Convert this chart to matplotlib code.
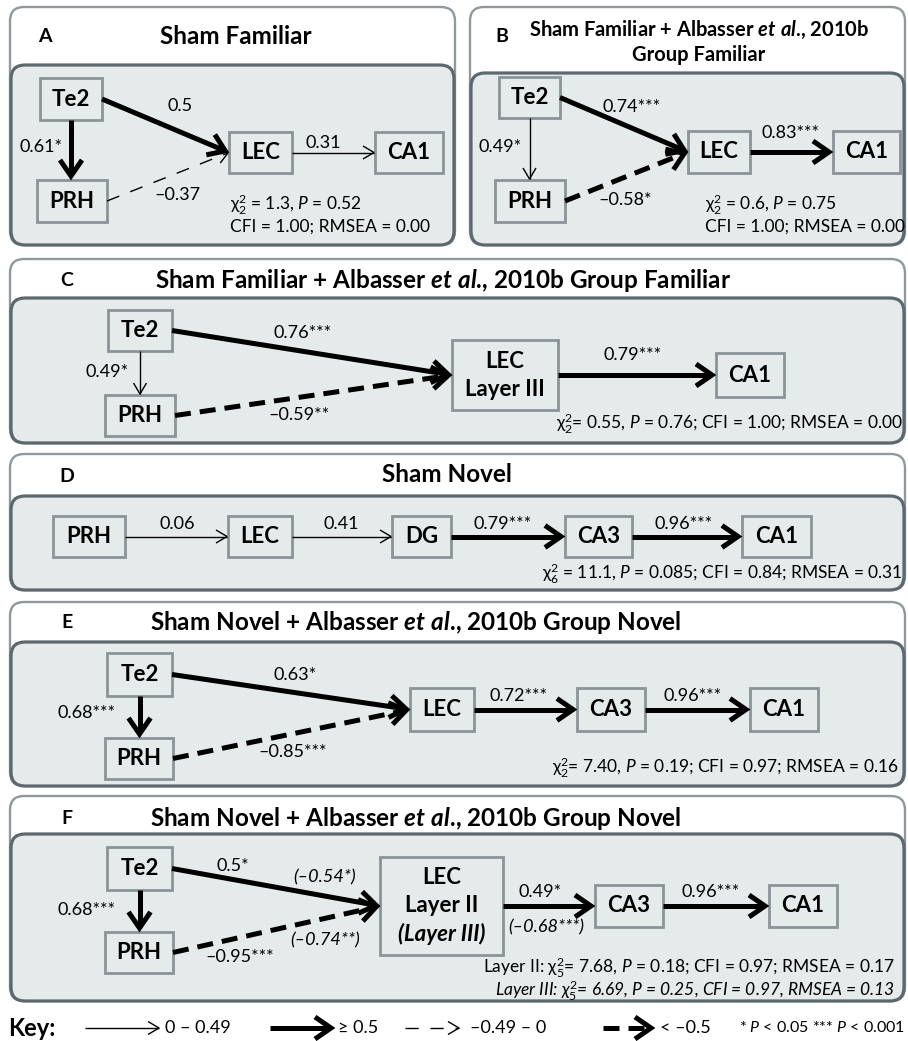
import numpy as np
import matplotlib
matplotlib.use("Agg")
import matplotlib.pyplot as plt
from matplotlib.patches import FancyBboxPatch, Rectangle

plt.rcParams['font.family'] = ['Lato', 'DejaVu Sans']
plt.rcParams['mathtext.fontset'] = 'custom'
plt.rcParams['mathtext.rm'] = 'Lato'
plt.rcParams['mathtext.it'] = 'Lato:italic'
plt.rcParams['mathtext.bf'] = 'Lato:bold'
plt.rcParams['mathtext.sf'] = 'Lato:italic:bold'
plt.rcParams['mathtext.fallback'] = 'stixsans'
plt.rcParams['lines.scale_dashes'] = False

# ---------------- data ----------------
A_src = ["Te2", "Te2", "PRH", "LEC"]
A_dst = ["LEC", "PRH", "LEC", "CA1"]
A_beta = [0.5, 0.61, -0.37, 0.31]
A_sig = ["", "*", "", ""]
A_fit = ["2", "1.3", "0.52", "1.00", "0.00"]

B_src = ["Te2", "Te2", "PRH", "LEC"]
B_dst = ["LEC", "PRH", "LEC", "CA1"]
B_beta = [0.74, 0.49, -0.58, 0.83]
B_sig = ["***", "*", "*", "***"]
B_fit = ["2", "0.6", "0.75", "1.00", "0.00"]

C_src = ["Te2", "Te2", "PRH", "LEC"]
C_dst = ["LEC", "PRH", "LEC", "CA1"]
C_beta = [0.76, 0.49, -0.59, 0.79]
C_sig = ["***", "*", "**", "***"]
C_fit = ["2", "0.55", "0.76", "1.00", "0.00"]

D_src = ["PRH", "LEC", "DG", "CA3"]
D_dst = ["LEC", "DG", "CA3", "CA1"]
D_beta = [0.06, 0.41, 0.79, 0.96]
D_sig = ["", "", "***", "***"]
D_fit = ["6", "11.1", "0.085", "0.84", "0.31"]

E_src = ["Te2", "Te2", "PRH", "LEC", "CA3"]
E_dst = ["LEC", "PRH", "LEC", "CA3", "CA1"]
E_beta = [0.63, 0.68, -0.85, 0.72, 0.96]
E_sig = ["*", "***", "***", "***", "***"]
E_fit = ["2", "7.40", "0.19", "0.97", "0.16"]

F_src = ["Te2", "Te2", "PRH", "LEC", "CA3"]
F_dst = ["LEC", "PRH", "LEC", "CA3", "CA1"]
F_beta = [0.5, 0.68, -0.95, 0.49, 0.96]
F_sig = ["*", "***", "***", "*", "***"]
F_beta_L3 = [-0.54, None, -0.74, -0.68, None]
F_sig_L3 = ["*", "", "**", "***", ""]
F_fit_L2 = ["5", "7.68", "0.18", "0.97", "0.17"]
F_fit_L3 = ["5", "6.69", "0.25", "0.97", "0.13"]

titles = {
    "A": "Sham Familiar",
    "B": ["Sham Familiar + Albasser $\\mathsf{et\\ al}$., 2010b", "Group Familiar"],
    "C": "Sham Familiar + Albasser $\\mathsf{et\\ al}$., 2010b Group Familiar",
    "D": "Sham Novel",
    "E": "Sham Novel + Albasser $\\mathsf{et\\ al}$., 2010b Group Novel",
    "F": "Sham Novel + Albasser $\\mathsf{et\\ al}$., 2010b Group Novel",
}

key_texts = ["0 – 0.49", "≥ 0.5", "–0.49 – 0", "< –0.5"]
key_thick = [False, True, False, True]
key_dashed = [False, False, True, True]

# ---------------- style ----------------
FILL = '#e5eaea'
BOXEDGE = '#8a9499'
OUTEREDGE = '#8e989d'
INNEREDGE = '#5c676e'
NODE_FS = 16
COEF_FS = 13
STAT_FS = 12.5
TITLE_FS = 17.5

fig = plt.figure(figsize=(9.08, 10.41), dpi=100)
ax = fig.add_axes([0, 0, 1, 1])
ax.set_xlim(0, 908)
ax.set_ylim(1041, 0)
ax.axis('off')


def fmt(b, s):
    t = f"{abs(b):g}"
    return ("–" if b < 0 else "") + t + s


def panel(x0, x1, y0, y1, yin):
    ax.add_patch(FancyBboxPatch((x0, y0), x1 - x0, y1 - y0,
                                boxstyle="round,pad=0,rounding_size=14",
                                fc='white', ec=OUTEREDGE, lw=1.7, zorder=1))
    ax.add_patch(FancyBboxPatch((x0 + 1, yin), x1 - x0 - 2, y1 - yin,
                                boxstyle="round,pad=0,rounding_size=14",
                                fc=FILL, ec=INNEREDGE, lw=2.3, zorder=2))


def node(b, lines, styles=None, size=NODE_FS):
    x0, x1, y0, y1 = b
    ax.add_patch(Rectangle((x0, y0), x1 - x0, y1 - y0, fc=FILL, ec=BOXEDGE,
                           lw=2.0, zorder=3))
    n = len(lines)
    cy = (y0 + y1) / 2
    step = 28
    for i, ln in enumerate(lines):
        st = styles[i] if styles else 'normal'
        ax.text((x0 + x1) / 2, cy + (i - (n - 1) / 2) * step, ln,
                ha='center', va='center', fontsize=size, fontweight='bold',
                style=st, zorder=4)


def arrow(p0, p1, thick, dashed):
    lw = 3.6 if thick else 1.0
    L = 16 if thick else 11
    W = 11 if thick else 6.5
    p0 = np.array(p0, float)
    p1 = np.array(p1, float)
    d = p1 - p0
    u = d / np.linalg.norm(d)
    perp = np.array([-u[1], u[0]])
    tip = p1 - u * (4.0 if thick else 1.0)
    shaft_end = tip - u * (3 if thick else 0.5)
    ls = '-'
    if dashed:
        ls = (0, (11.5, 6.5)) if thick else (0, (9.5, 8.5))
    ax.plot([p0[0], shaft_end[0]], [p0[1], shaft_end[1]], color='k', lw=lw,
            ls=ls, solid_capstyle='butt', dash_capstyle='butt', zorder=5)
    w1 = tip - u * L + perp * W
    w2 = tip - u * L - perp * W
    ax.plot([w1[0], tip[0], w2[0]], [w1[1], tip[1], w2[1]], color='k', lw=lw,
            solid_joinstyle='miter', solid_capstyle='butt', zorder=5)


def endpoints(nodes, s, t):
    a = nodes[s]
    b = nodes[t]
    if b[0] < a[1] and b[2] > a[3]:  # vertical (below)
        x = (a[0] + a[1]) / 2
        return (x, a[3]), (x, b[2])
    return (a[1], (a[2] + a[3]) / 2), (b[0], (b[2] + b[3]) / 2)


def edges(nodes, src, dst, beta, sig, lbl, alt=None, alt_sig=None, alt_lbl=None):
    for i, (s, t, b, g) in enumerate(zip(src, dst, beta, sig)):
        p0, p1 = endpoints(nodes, s, t)
        mag = abs(b)
        if alt is not None and alt[i] is not None:
            mag = max(mag, abs(alt[i]))
        arrow(p0, p1, mag >= 0.5, b < 0)
        ax.text(lbl[i][0], lbl[i][1], fmt(b, g), ha='center', va='center',
                fontsize=COEF_FS, zorder=6)
        if alt is not None and alt[i] is not None:
            ax.text(alt_lbl[i][0], alt_lbl[i][1], "(" + fmt(alt[i], alt_sig[i]) + ")",
                    ha='center', va='center', fontsize=COEF_FS, style='italic', zorder=6)


def letter(x, y, L):
    ax.text(x, y, L, ha='center', va='center', fontsize=14, fontweight='bold')


# ---------------- Panel A ----------------
panel(10, 455, 7, 245, 65)
letter(45, 37, "A")
ax.text(236, 37, titles["A"], ha='center', va='center', fontsize=TITLE_FS, fontweight='bold')
nA = {"Te2": (40, 102, 78, 120), "PRH": (37, 107, 180, 222),
      "LEC": (229, 292, 132, 173), "CA1": (375, 443, 132, 173)}
for k, v in nA.items():
    node(v, [k])
edges(nA, A_src, A_dst, A_beta, A_sig, [(180, 106), (41, 147), (177, 195), (323, 143)])
ax.text(230, 205, "$\\mathrm{\\chi}^{%s}_{%s}$ = %s, $\\mathit{P}$ = %s" % (A_fit[0], A_fit[0], A_fit[1], A_fit[2]),
        ha='left', va='center', fontsize=STAT_FS)
ax.text(230, 227, "CFI = %s; RMSEA = %s" % (A_fit[3], A_fit[4]), ha='left', va='center', fontsize=STAT_FS)

# ---------------- Panel B ----------------
panel(470, 905, 7, 245, 73)
letter(502, 37, "B")
ax.text(699, 30, titles["B"][0], ha='center', va='center', fontsize=14.5, fontweight='bold')
ax.text(699, 55, titles["B"][1], ha='center', va='center', fontsize=14.5, fontweight='bold')
nB = {"Te2": (499, 560, 77, 118), "PRH": (495, 565, 180, 222),
      "LEC": (688, 750, 131, 173), "CA1": (833, 900, 131, 173)}
for k, v in nB.items():
    node(v, [k])
edges(nB, B_src, B_dst, B_beta, B_sig, [(632, 107), (500, 147), (625, 200), (791, 133)])
ax.text(705, 205, "$\\mathrm{\\chi}^{2}_{%s}$ = %s, $\\mathit{P}$ = %s" % (B_fit[0], B_fit[1], B_fit[2]),
        ha='left', va='center', fontsize=STAT_FS)
ax.text(705, 227, "CFI = %s; RMSEA = %s" % (B_fit[3], B_fit[4]), ha='left', va='center', fontsize=STAT_FS)

# ---------------- Panel C ----------------
panel(10, 905, 259, 443, 298)
letter(67, 280, "C")
ax.text(443, 280, titles["C"], ha='center', va='center', fontsize=TITLE_FS, fontweight='bold')
nC = {"Te2": (108, 172, 310, 351), "PRH": (105, 175, 395, 436),
      "LEC": (452, 558, 340, 410), "CA1": (716, 784, 353, 397)}
for k, v in nC.items():
    if k == "LEC":
        node(v, ["LEC", "Layer III"])
    else:
        node(v, [k])
edges(nC, C_src, C_dst, C_beta, C_sig, [(303, 333), (107, 372), (299, 415), (633, 355)])
ax.text(903, 424, "$\\mathrm{\\chi}^{2}_{%s}$= %s, $\\mathit{P}$ = %s; CFI = %s; RMSEA = %s" % tuple(C_fit),
        ha='right', va='center', fontsize=STAT_FS)

# ---------------- Panel D ----------------
panel(10, 905, 454, 590, 496)
letter(67, 476, "D")
ax.text(447, 474, titles["D"], ha='center', va='center', fontsize=TITLE_FS, fontweight='bold')
nD = {"PRH": (53, 125, 516, 557), "LEC": (228, 292, 516, 557),
      "DG": (392, 451, 516, 557), "CA3": (565, 632, 516, 557),
      "CA1": (742, 811, 516, 557)}
for k, v in nD.items():
    node(v, [k])
edges(nD, D_src, D_dst, D_beta, D_sig, [(177, 524), (341, 524), (503, 524), (684, 524)])
ax.text(903, 574, "$\\mathrm{\\chi}^{2}_{%s}$ = %s, $\\mathit{P}$ = %s; CFI = %s; RMSEA = %s" % tuple(D_fit),
        ha='right', va='center', fontsize=STAT_FS)

# ---------------- Panel E ----------------
panel(10, 905, 602, 786, 642)
letter(67, 623, "E")
ax.text(416, 623, titles["E"], ha='center', va='center', fontsize=TITLE_FS, fontweight='bold')
nE = {"Te2": (107, 172, 653, 696), "PRH": (105, 173, 738, 779),
      "LEC": (410, 474, 688, 731), "CA3": (577, 645, 688, 731),
      "CA1": (750, 818, 688, 731)}
for k, v in nE.items():
    node(v, [k])
edges(nE, E_src, E_dst, E_beta, E_sig, [(295, 675), (87, 713), (293, 752), (518, 696), (693, 696)])
ax.text(899, 768, "$\\mathrm{\\chi}^{2}_{%s}$= %s, $\\mathit{P}$ = %s; CFI = %s; RMSEA = %s" % tuple(E_fit),
        ha='right', va='center', fontsize=STAT_FS)

# ---------------- Panel F ----------------
panel(10, 905, 796, 1001, 834)
letter(67, 819, "F")
ax.text(416, 819, titles["F"], ha='center', va='center', fontsize=TITLE_FS, fontweight='bold')
nF = {"Te2": (107, 172, 847, 890), "PRH": (105, 173, 932, 973),
      "LEC": (380, 503, 857, 955), "CA3": (595, 663, 885, 927),
      "CA1": (769, 837, 885, 927)}
for k, v in nF.items():
    if k == "LEC":
        node(v, ["LEC", "Layer II", "(Layer III)"], ['normal', 'normal', 'italic'])
    else:
        node(v, [k])
edges(nF, F_src, F_dst, F_beta, F_sig,
      [(233, 866), (87, 910), (240, 957), (540, 892), (711, 892)],
      alt=F_beta_L3, alt_sig=F_sig_L3,
      alt_lbl=[(325, 877), None, (325, 940), (546, 927), None])
ax.text(895, 968, "Layer II: $\\mathrm{\\chi}^{2}_{%s}$= %s, $\\mathit{P}$ = %s; CFI = %s; RMSEA = %s" % tuple(F_fit_L2),
        ha='right', va='center', fontsize=STAT_FS)
ax.text(895, 991, "Layer III: $\\mathit{\\chi}^{\\mathit{2}}_{\\mathit{%s}}$= %s, $\\mathit{P}$ = %s, CFI = %s, RMSEA = %s" % tuple(F_fit_L3),
        ha='right', va='center', fontsize=STAT_FS, style='italic')

# ---------------- Key ----------------
ky = 1028
ax.text(8, ky, "Key:", ha='left', va='center', fontsize=17, fontweight='bold')
key_arrow_x = [(85, 160), (270, 335), (405, 460), (603, 655)]
key_text_x = [165, 338, 470, 660]
for (xa, xb), tx, txt, th, da in zip(key_arrow_x, key_text_x, key_texts, key_thick, key_dashed):
    arrow((xa, ky), (xb, ky), th, da)
    ax.text(tx, ky, txt, ha='left', va='center', fontsize=13)
ax.text(905, ky, "* $\\mathit{P}$ < 0.05 *** $\\mathit{P}$ < 0.001", ha='right', va='center', fontsize=11.5)

fig.savefig("out.png", dpi=100)
